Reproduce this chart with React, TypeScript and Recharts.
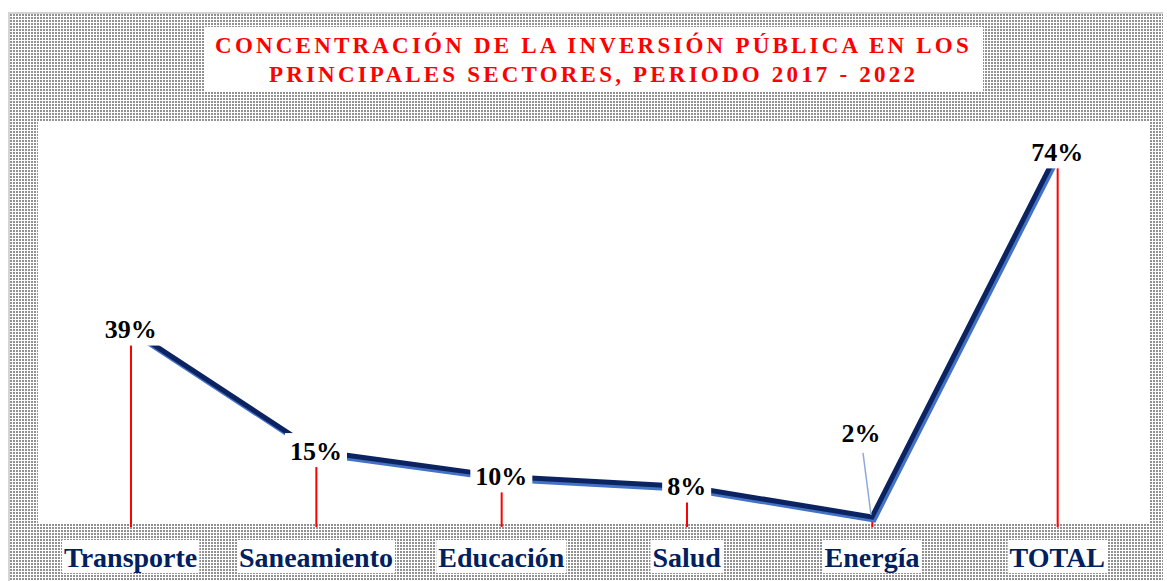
import React from 'react';
import { ComposedChart, Line, Bar, XAxis, YAxis, LabelList } from 'recharts';

// sector names and their share of public investment (%)
const sectors = ['Transporte', 'Saneamiento', 'Educación', 'Salud', 'Energía', 'TOTAL'];
const shares = [39, 15, 10, 8, 2, 74];

const titleLines = [
  'CONCENTRACIÓN DE LA INVERSIÓN PÚBLICA EN LOS',
  'PRINCIPALES SECTORES, PERIODO 2017 - 2022',
];

const data = sectors.map((name, i) => ({ name, value: shares[i] }));

const SERIF = '"Liberation Serif", "Times New Roman", serif';
const NAVY = '#0B2461';
const SHADOW = '#4472C4';

// canvas text measuring so the white boxes fit the labels
let ctx: CanvasRenderingContext2D | null = null;
const measure = (text: string, font: string) => {
  if (!ctx) ctx = document.createElement('canvas').getContext('2d');
  if (!ctx) return text.length * 12;
  ctx.font = font;
  return ctx.measureText(text).width;
};

const patternUrl =
  "url(\"data:image/svg+xml;utf8,<svg xmlns='http://www.w3.org/2000/svg' width='3' height='3'><rect width='2' height='2' fill='%23919191'/></svg>\")";

const CategoryTick = ({ x, y, payload }: any) => {
  const w = measure(payload.value, `bold 28px ${SERIF}`);
  return (
    <g>
      <rect x={x - w / 2 - 2} y={y + 5} width={w + 4} height={33} fill="#fff" />
      <text
        x={x}
        y={y + 22}
        textAnchor="middle"
        dominantBaseline="central"
        fontFamily={SERIF}
        fontWeight="bold"
        fontSize={28}
        fill="#002060"
      >
        {payload.value}
      </text>
    </g>
  );
};

// the Energía label sits up and to the left with a leader line
const MOVED_LABEL = { index: 4, dx: -11, dy: -83 };

const PointLabel = (props: any) => {
  const { x, y, value, index } = props;
  const text = `${value}%`;
  const w = measure(text, `bold 26px ${SERIF}`);
  const moved = index === MOVED_LABEL.index;
  const lx = moved ? x + MOVED_LABEL.dx : x;
  const ly = moved ? y + MOVED_LABEL.dy : y;
  return (
    <g>
      {moved ? (
        <line x1={lx + 2} y1={ly + 19} x2={x - 1} y2={y - 2} stroke="#8EA9DB" strokeWidth={1.5} />
      ) : (
        <rect x={lx - w / 2 - 5} y={ly - 18} width={w + 10} height={34} fill="#fff" />
      )}
      <text
        x={lx}
        y={ly}
        textAnchor="middle"
        dominantBaseline="central"
        fontFamily={SERIF}
        fontWeight="bold"
        fontSize={26}
        fill="#000"
      >
        {text}
      </text>
    </g>
  );
};

export default function App() {
  return (
    <div style={{ position: 'absolute', left: 0, top: 0, width: 1167, height: 581, overflow: 'hidden', background: '#fff' }}>
      <style>{`.shade-line .recharts-line-curve { transform: translate(2px, 3px); }`}</style>
      {/* patterned frame */}
      <div
        style={{
          position: 'absolute',
          left: 8,
          top: 12,
          width: 1155,
          height: 575,
          boxSizing: 'border-box',
          borderLeft: '2px solid #d4d4d4',
          borderTop: '2px solid #d4d4d4',
          backgroundImage: patternUrl,
        }}
      />
      {/* title box */}
      <div
        style={{
          position: 'absolute',
          left: 204,
          top: 27,
          width: 779,
          height: 65,
          background: '#fff',
          display: 'flex',
          flexDirection: 'column',
          alignItems: 'center',
          justifyContent: 'center',
          fontFamily: SERIF,
          fontWeight: 'bold',
          fontSize: 23,
          letterSpacing: 3.2,
          color: '#FF0000',
          lineHeight: '29px',
        }}
      >
        {titleLines.map((t) => (
          <div key={t}>{t}</div>
        ))}
      </div>
      {/* plot area */}
      <div style={{ position: 'absolute', left: 38, top: 122, width: 1112, height: 402, background: '#fff' }} />
      <div style={{ position: 'absolute', left: 0, top: 0 }}>
        <ComposedChart width={1167} height={581} data={data} margin={{ top: 122, right: 17, left: 38, bottom: 0 }}>
          <XAxis dataKey="name" height={54} axisLine={false} tickLine={false} tick={<CategoryTick />} interval={0} />
          <YAxis hide domain={[0, 80]} />
          <Bar dataKey="value" barSize={2} fill="#FF0000" isAnimationActive={false} />
          <Line
            className="shade-line"
            dataKey="value"
            stroke={SHADOW}
            strokeWidth={5}
            dot={false}
            isAnimationActive={false}
          />
          <Line dataKey="value" stroke={NAVY} strokeWidth={5} dot={false} isAnimationActive={false}>
            <LabelList dataKey="value" content={<PointLabel />} />
          </Line>
        </ComposedChart>
      </div>
    </div>
  );
}
